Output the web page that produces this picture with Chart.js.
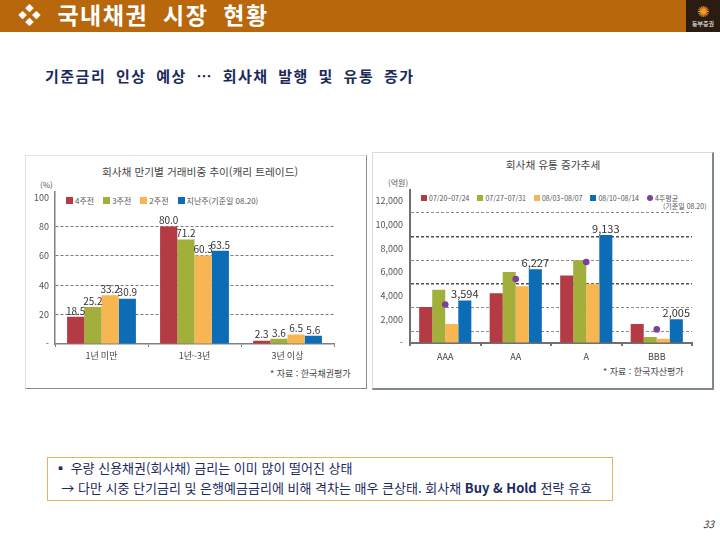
<!DOCTYPE html>
<html lang="ko">
<head>
<meta charset="utf-8">
<script src="https://cdn.jsdelivr.net/npm/chart.js@4.4.0/dist/chart.umd.min.js"></script>
<style>
  body { margin:0; width:720px; height:540px; position:relative; background:#fff; overflow:hidden;
         font-family:"Noto Sans CJK KR", "Noto Sans", sans-serif; }
  .abs { position:absolute; }
  .header { left:0; top:0; width:720px; height:32px; background:#B8670D; }
  .header h1 { position:absolute; left:18px; top:-3px; margin:0; color:#fff; font-size:23px; font-weight:bold;
               letter-spacing:1.5px; word-spacing:7px; }
  .logo { left:686px; top:0; width:34px; height:32px; background:#2a1c10; color:#fff; text-align:center; }
  .logo .sun { color:#F39A1E; font-size:15px; line-height:18px; display:block; margin-top:2px; }
  .logo .name { font-size:6px; line-height:8px; display:block; }
  .subtitle { left:45px; top:65px; color:#1B2A5C; font-size:15px; font-weight:bold; letter-spacing:1.5px; word-spacing:4px; }
  .panel { background:#fff; box-sizing:border-box; }
  .left-panel { left:25px; top:155px; width:342px; height:234px; border:1px solid #e2e2e2; border-right:1.5px solid #8a8a8a; border-bottom:1.5px solid #8a8a8a; }
  .right-panel { left:372px; top:152px; width:342px; height:238px; border:1px solid #dcdcdc; border-right:2px solid #7e8a8c; border-bottom:2px solid #7e8a8c; }
  .ctitle { color:#444; font-size:10.7px; white-space:nowrap; transform:translateX(-50%); }
  .unit { color:#555; font-size:8px; }
  .legend { display:flex; align-items:center; color:#555; white-space:nowrap; }
  .legend span.item { display:flex; align-items:center; }
  .legend i { display:inline-block; margin-right:2px; }
  .source { color:#444; font-size:9px; white-space:nowrap; }
  canvas { position:absolute; }
  .note { left:47px; top:457px; width:566px; height:44px; box-sizing:border-box; border:1px solid #E1B65A;
          color:#1B2A5C; font-size:13px; line-height:20px; padding:0 0 0 6px; white-space:nowrap; }
  .page { left:703px; top:516px; font-size:10px; color:#333; font-style:italic; }
</style>
</head>
<body>

<div class="abs header"><h1>❖ 국내채권 시장 현황</h1></div>
<div class="abs logo"><span class="sun">✺</span><span class="name">동부증권</span></div>
<div class="abs subtitle">기준금리 인상 예상 … 회사채 발행 및 유통 증가</div>

<div class="abs panel left-panel"></div>
<div class="abs panel right-panel"></div>

<div class="abs ctitle" style="left:200px; top:164px;">회사채 만기별 거래비중 추이(캐리 트레이드)</div>
<div class="abs ctitle" style="left:553px; top:157px;">회사채 유통 증가추세</div>
<div class="abs unit" style="left:40px; top:179px;">(%)</div>
<div class="abs unit" style="left:388px; top:177px;">(억원)</div>
<div class="abs legend" id="termLegend" style="left:66px; top:195px; font-size:8px;"></div>
<div class="abs legend" id="flowLegend" style="left:421px; top:193px; font-size:7px;"></div>
<div class="abs unit" style="left:663px; top:201px; font-size:7px;">(기준일 08.20)</div>
<div class="abs source" style="left:270px; top:367px;">* 자료 : 한국채권평가</div>
<div class="abs source" style="left:603px; top:365px;">* 자료 : 한국자산평가</div>

<canvas id="termChart" width="320" height="185" style="left:20px; top:180px;"></canvas>
<canvas id="flowChart" width="335" height="190" style="left:370px; top:178px;"></canvas>

<div class="abs note">▪ 우량 신용채권(회사채) 금리는 이미 많이 떨어진 상태<br>
&nbsp;&nbsp;→ 다만 시중 단기금리 및 은행예금금리에 비해 격차는 매우 큰상태. 회사채 <b>Buy &amp; Hold</b> 전략 유효</div>
<div class="abs page">33</div>

<script>
// left chart: share of trading by maturity (%)
const termLabels = ['1년 미만', '1년~3년', '3년 이상'];
const termSeries = ['4주전', '3주전', '2주전', '지난주(기준일 08.20)'];
const week4 = [18.5, 80.0, 2.3];
const week3 = [25.2, 71.2, 3.6];
const week2 = [33.2, 60.3, 6.5];
const lastWeek = [30.9, 63.5, 5.6];
const pctTicks = [0, 20, 40, 60, 80, 100];

// right chart: corporate bond trading volume (억원)
const gradeLabels = ['AAA', 'AA', 'A', 'BBB'];
const flowSeries = ['07/20~07/24', '07/27~07/31', '08/03~08/07', '08/10~08/14', '4주평균'];
const jul20 = [3050, 4200, 5700, 1600];
const jul27 = [4500, 6000, 7000, 500];
const aug03 = [1600, 4800, 5000, 350];
const aug10 = [3594, 6227, 9133, 2005];
const avg4w = [3250, 5400, 6850, 1150];
const flowTicks = [0, 2000, 4000, 6000, 8000, 10000, 12000];
const flowGrid = [1000, 3000, 5000, 7000, 9000, 11000];

const barColors = ['#B43A44', '#A2AF3B', '#F8B652', '#0C6DB6'];
const dotColor = '#7E3F98';
const FONT = '"Noto Sans CJK KR", "Noto Sans", sans-serif';

Chart.defaults.font.family = FONT;
Chart.defaults.animation = false;

// labels on top of bars
function valueLabels(which, fmt, font, color) {
  return {
    id: 'valueLabels',
    afterDatasetsDraw(chart) {
      const ctx = chart.ctx;
      ctx.save();
      ctx.font = font;
      ctx.fillStyle = color;
      ctx.textAlign = 'center';
      ctx.textBaseline = 'bottom';
      chart.data.datasets.forEach((ds, i) => {
        if (!which.includes(i)) return;
        chart.getDatasetMeta(i).data.forEach((bar, j) => {
          ctx.fillText(fmt(ds.data[j]), bar.x, bar.y - 1);
        });
      });
      ctx.restore();
    }
  };
}

function buildLegend(el, names, colors, dotIdx, gap, sz) {
  names.forEach((n, i) => {
    const item = document.createElement('span');
    item.className = 'item';
    item.style.marginRight = gap + 'px';
    const sw = document.createElement('i');
    sw.style.width = sz + 'px';
    sw.style.height = sz + 'px';
    sw.style.background = colors[i];
    if (i === dotIdx) sw.style.borderRadius = '50%';
    item.appendChild(sw);
    item.appendChild(document.createTextNode(n));
    el.appendChild(item);
  });
}
buildLegend(document.getElementById('termLegend'), termSeries, barColors, -1, 9, 7);
buildLegend(document.getElementById('flowLegend'), flowSeries, barColors.concat([dotColor]), 4, 8, 6);

const termChart = new Chart(document.getElementById('termChart'), {
  type: 'bar',
  data: {
    labels: termLabels,
    datasets: [week4, week3, week2, lastWeek].map((d, i) => ({
      label: termSeries[i], data: d, backgroundColor: barColors[i],
      categoryPercentage: 0.74, barPercentage: 1.0
    }))
  },
  options: {
    responsive: false,
    devicePixelRatio: 1,
    layout: { padding: { top: 7, right: 6, left: 0, bottom: 0 } },
    plugins: { legend: { display: false }, tooltip: { enabled: false } },
    scales: {
      x: {
        afterFit: s => { s.height = 21; },
        border: { color: '#808080', width: 1.5 },
        grid: { drawOnChartArea: false, tickLength: 3, color: '#808080' },
        ticks: { color: '#444', font: { size: 9 }, padding: 3 }
      },
      y: {
        min: 0, max: 104,
        afterBuildTicks: s => { s.ticks = pctTicks.map(v => ({ value: v })); },
        afterFit: s => { s.width = 35; },
        border: { color: '#808080', width: 1.5, dash: [3, 2] },
        grid: {
          drawTicks: false,
          color: c => (c.tick && c.tick.value > 0 && c.tick.value < 100) ? '#7a7a7a' : 'rgba(0,0,0,0)'
        },
        ticks: { color: '#555', font: { size: 9 }, padding: 6, callback: v => v === 0 ? '-' : v }
      }
    }
  },
  plugins: [valueLabels([0, 1, 2, 3], v => v.toFixed(1), '10px ' + FONT, '#333')]
});

const flowChart = new Chart(document.getElementById('flowChart'), {
  type: 'bar',
  data: {
    labels: gradeLabels,
    datasets: [jul20, jul27, aug03, aug10].map((d, i) => ({
      label: flowSeries[i], data: d, backgroundColor: barColors[i],
      categoryPercentage: 0.74, barPercentage: 1.0, order: 1
    })).concat([{
      type: 'line', label: flowSeries[4], data: avg4w, showLine: false,
      pointRadius: 3.3, pointBackgroundColor: dotColor, pointBorderWidth: 0, order: 0
    }])
  },
  options: {
    responsive: false,
    devicePixelRatio: 1,
    layout: { padding: { top: 8, right: 13, left: 0, bottom: 0 } },
    plugins: { legend: { display: false }, tooltip: { enabled: false } },
    scales: {
      x: {
        afterFit: s => { s.height = 25; },
        border: { color: '#707070', width: 2 },
        grid: { drawOnChartArea: false, tickLength: 3, color: '#707070', lineWidth: 2 },
        ticks: { color: '#444', font: { size: 9 }, padding: 5 }
      },
      y: {
        min: 0, max: 12900,
        afterBuildTicks: s => {
          s.ticks = flowTicks.concat(flowGrid).sort((a, b) => a - b).map(v => ({ value: v }));
        },
        afterFit: s => { s.width = 40; },
        border: { color: '#707070', width: 2, dash: [3, 2] },
        grid: {
          drawTicks: false,
          color: c => {
            const v = c.tick ? c.tick.value : -1;
            if (!flowGrid.includes(v)) return 'rgba(0,0,0,0)';
            return (v === 5000 || v === 9000) ? '#505050' : '#8a8a8a';
          },
          lineWidth: c => (c.tick && (c.tick.value === 5000 || c.tick.value === 9000)) ? 1.5 : 1
        },
        ticks: {
          color: '#555', font: { size: 9 }, padding: 7, autoSkip: false,
          callback: v => !flowTicks.includes(v) ? '' : (v === 0 ? '-' : v.toLocaleString('en-US'))
        }
      }
    }
  },
  plugins: [valueLabels([3], v => v.toLocaleString('en-US'), '11px ' + FONT, '#333')]
});
</script>
</body>
</html>
